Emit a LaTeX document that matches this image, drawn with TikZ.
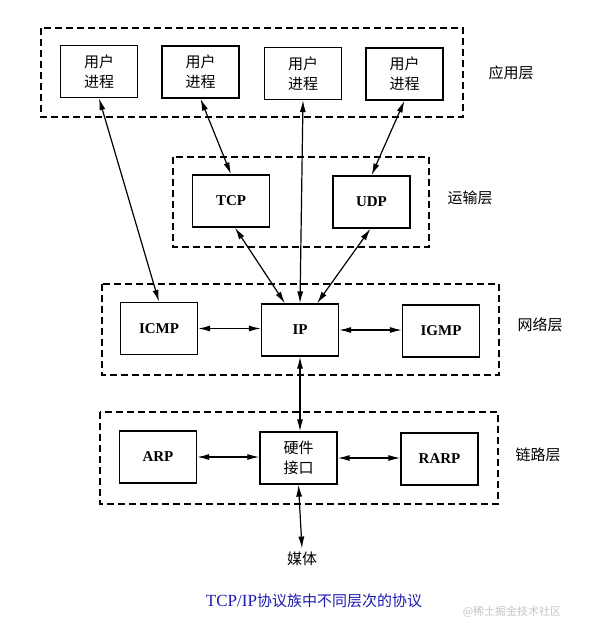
\documentclass[tikz,border=0pt]{standalone}
\usepackage{fontspec}
\setmainfont{Liberation Serif}
\newfontfamily\cjk{Noto Sans CJK SC}
\usetikzlibrary{arrows.meta}

\definecolor{capblue}{RGB}{28,28,175}

\begin{document}
\begin{tikzpicture}[x=1pt, y=-1pt,
  proto/.style={draw, line width=1.3pt, minimum width=77pt, minimum height=52pt, inner sep=0pt, font=\bfseries\fontsize{15}{17}\selectfont},
  proc/.style={proto, align=center, font=\cjk\fontsize{15}{20}\selectfont},
  layer/.style={draw, line width=1.2pt, dash pattern=on 7pt off 4pt},
  tag/.style={font=\cjk\fontsize{15}{18}\selectfont},
  link/.style={arrows={Latex[length=12pt,width=6pt]-Latex[length=12pt,width=6pt]}, line width=1.2pt}]
\useasboundingbox (0,0) rectangle (590,635);
\fill[white] (0,0) rectangle (590,635);

% Layer frames
\draw[layer] (41,28) rectangle (463,117);
\draw[layer] (173,157) rectangle (429,247);
\draw[layer] (102,284) rectangle (499,375);
\draw[layer] (100,412) rectangle (498,504);

% Layer names
\node[tag] (appname) at (511,73) {应用层};
\node[tag] (tptname) at (470,198) {运输层};
\node[tag] (netname) at (540,325) {网络层};
\node[tag] (lnkname) at (538,455) {链路层};

% Application layer
\node[proc] (app1) at (99,71.5) {用户\\进程};
\node[proc] (app2) at (200.5,72) {用户\\进程};
\node[proc] (app3) at (303,73.5) {用户\\进程};
\node[proc] (app4) at (404.5,74) {用户\\进程};

% Transport layer
\node[proto] (tcp) at (231,201) {TCP};
\node[proto] (udp) at (371.5,202) {UDP};

% Network layer
\node[proto] (icmp) at (159,328.5) {ICMP};
\node[proto] (ip) at (300,330) {IP};
\node[proto] (igmp) at (441,331) {IGMP};

% Link layer
\node[proto] (arp) at (158,457) {ARP};
\node[proc] (hw) at (298.5,458) {硬件\\接口};
\node[proto] (rarp) at (439.5,459) {RARP};

% Medium
\node[tag] (media) at (302,559) {媒体};

% Connections
\draw[link] (app1.south) -- (icmp.north);
\draw[link] (app2.south) -- (tcp.north);
\draw[link] (app3.south) -- (ip.north);
\draw[link] (app4.south) -- (udp.north);
\draw[link] ([xshift=4pt]tcp.south) -- ([xshift=-15pt]ip.north);
\draw[link] ([xshift=-1pt]udp.south) -- ([xshift=17pt]ip.north);
\draw[link] (icmp.east) -- (icmp.east -| ip.west);
\draw[link] (ip.east) -- (ip.east -| igmp.west);
\draw[link] (ip.south) -- (ip.south |- hw.north);
\draw[link] (arp.east) -- (arp.east -| hw.west);
\draw[link] (hw.east) -- (hw.east -| rarp.west);
\draw[link] (hw.south) -- (media.north);

% Caption
\node[capblue, font=\fontsize{17}{20}\selectfont] (caption) at (314,601) {TCP/IP{\cjk\fontsize{15}{20}\selectfont 协议族中不同层次的协议}};
\node[gray!45, font=\cjk\fontsize{11}{13}\selectfont] (mark) at (512,612) {@稀土掘金技术社区};
\end{tikzpicture}
\end{document}
